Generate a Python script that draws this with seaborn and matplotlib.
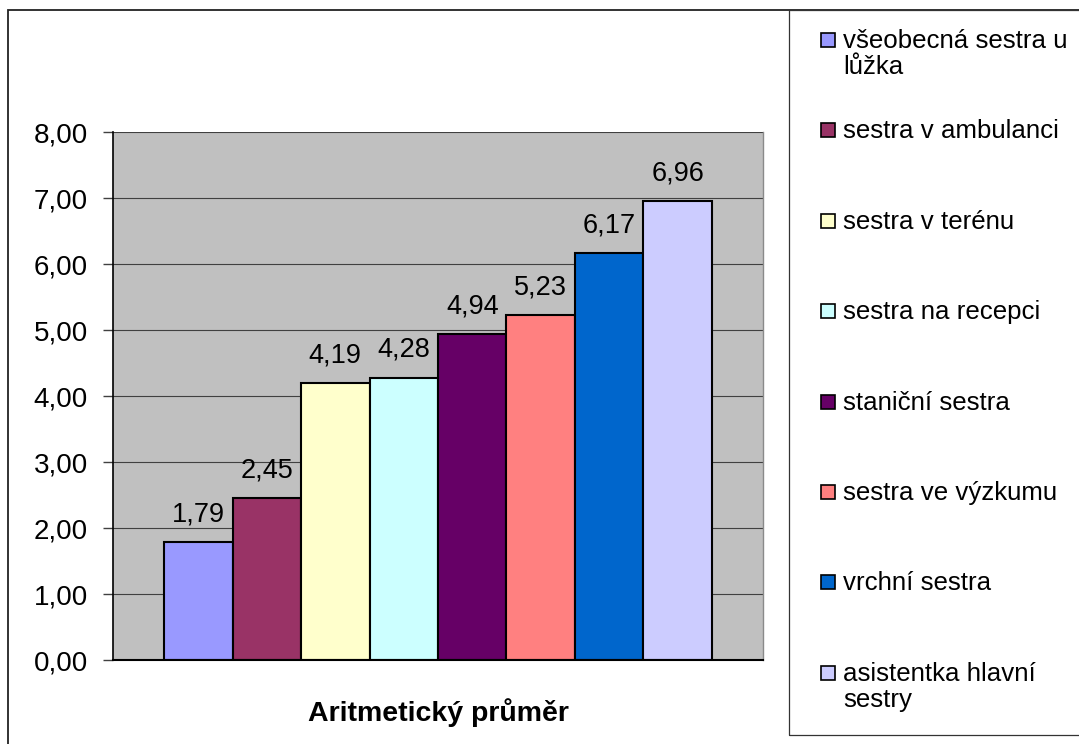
import matplotlib
matplotlib.use("Agg")
import matplotlib.pyplot as plt
from matplotlib.patches import Rectangle
from matplotlib.ticker import FuncFormatter
import pandas as pd
import seaborn as sns

# --- data -------------------------------------------------------------
group = "Aritmetický průměr"
roles = [
    "všeobecná sestra u lůžka",
    "sestra v ambulanci",
    "sestra v terénu",
    "sestra na recepci",
    "staniční sestra",
    "sestra ve výzkumu",
    "vrchní sestra",
    "asistentka hlavní sestry",
]
legend_labels = [
    "všeobecná sestra u\nlůžka",
    "sestra v ambulanci",
    "sestra v terénu",
    "sestra na recepci",
    "staniční sestra",
    "sestra ve výzkumu",
    "vrchní sestra",
    "asistentka hlavní\nsestry",
]
means = [1.79, 2.45, 4.19, 4.28, 4.94, 5.23, 6.17, 6.96]
colors = ["#9999FF", "#993366", "#FFFFCC", "#CCFFFF",
          "#660066", "#FF8080", "#0066CC", "#CCCCFF"]
y_ticks = [0, 1, 2, 3, 4, 5, 6, 7, 8]

plt.rcParams["font.family"] = ["Liberation Sans", "DejaVu Sans"]
FS_TICK = 20
FS_VAL = 19.5
FS_LEG = 18.6
FS_CAT = 20.5


def czech(v):
    return f"{v:.2f}".replace(".", ",")


# --- figure -----------------------------------------------------------
W, H = 1079, 744
fig = plt.figure(figsize=(W / 100, H / 100), dpi=100)
fig.patch.set_facecolor("white")


def fx(px):
    return px / W


def fy(py):
    return 1 - py / H


ax = fig.add_axes([fx(113), fy(660), fx(763) - fx(113), fy(132) - fy(660)])

df = pd.DataFrame({"skupina": [group] * len(roles), "pozice": roles, "prumer": means})
sns.barplot(data=df, x="skupina", y="prumer", hue="pozice", hue_order=roles,
            palette=colors, saturation=1, width=0.843, edgecolor="black",
            linewidth=1.5, errorbar=None, legend=False, ax=ax)

for cont, v in zip(ax.containers, means):
    ax.bar_label(cont, labels=[czech(v)], padding=10.5, fontsize=FS_VAL, color="black")

ax.set_xlim(-0.5, 0.5)
ax.set_ylim(0, 8)
ax.set_facecolor("#C0C0C0")
ax.set_yticks(y_ticks)
ax.yaxis.set_major_formatter(FuncFormatter(lambda v, _: czech(v)))
ax.yaxis.grid(True, color="#404040", linewidth=0.8)
ax.xaxis.grid(False)
ax.set_axisbelow(True)

ax.spines["top"].set_visible(False)
ax.spines["right"].set_color("#8a8a8a")
ax.spines["right"].set_linewidth(1.0)
ax.spines["left"].set_color("black")
ax.spines["left"].set_linewidth(1.2)
ax.spines["bottom"].set_color("black")
ax.spines["bottom"].set_linewidth(1.5)

ax.tick_params(axis="y", length=7.2, width=1, color="#404040", pad=10.8,
               labelsize=FS_TICK, labelcolor="black")
ax.set_xticks([0])
ax.set_xticklabels([group], fontweight="bold", fontsize=FS_CAT)
ax.tick_params(axis="x", length=0, pad=27.5)
ax.set_xlabel("")
ax.set_ylabel("")

# --- outer frame and legend box --------------------------------------
fig.add_artist(Rectangle((fx(8), fy(800)), fx(1200) - fx(8), fy(10) - fy(800),
                         transform=fig.transFigure, fill=False,
                         edgecolor="#222222", linewidth=1.3))
fig.add_artist(Rectangle((fx(789), fy(735)), fx(1200) - fx(789), fy(10) - fy(735),
                         transform=fig.transFigure, fill=False,
                         edgecolor="#333333", linewidth=0.9))

step = 90.4
line_gap = 26
for i, (lab, col) in enumerate(zip(legend_labels, colors)):
    cy = 40 + i * step
    fig.add_artist(Rectangle((fx(821), fy(cy + 7)), fx(14), 14 / H,
                             transform=fig.transFigure, facecolor=col,
                             edgecolor="black", linewidth=1.2))
    for k, line in enumerate(lab.split("\n")):
        fig.text(fx(843), fy(cy + 8 + k * line_gap), line, ha="left",
                 va="baseline", fontsize=FS_LEG, color="black")

fig.savefig("out.png", dpi=100)
